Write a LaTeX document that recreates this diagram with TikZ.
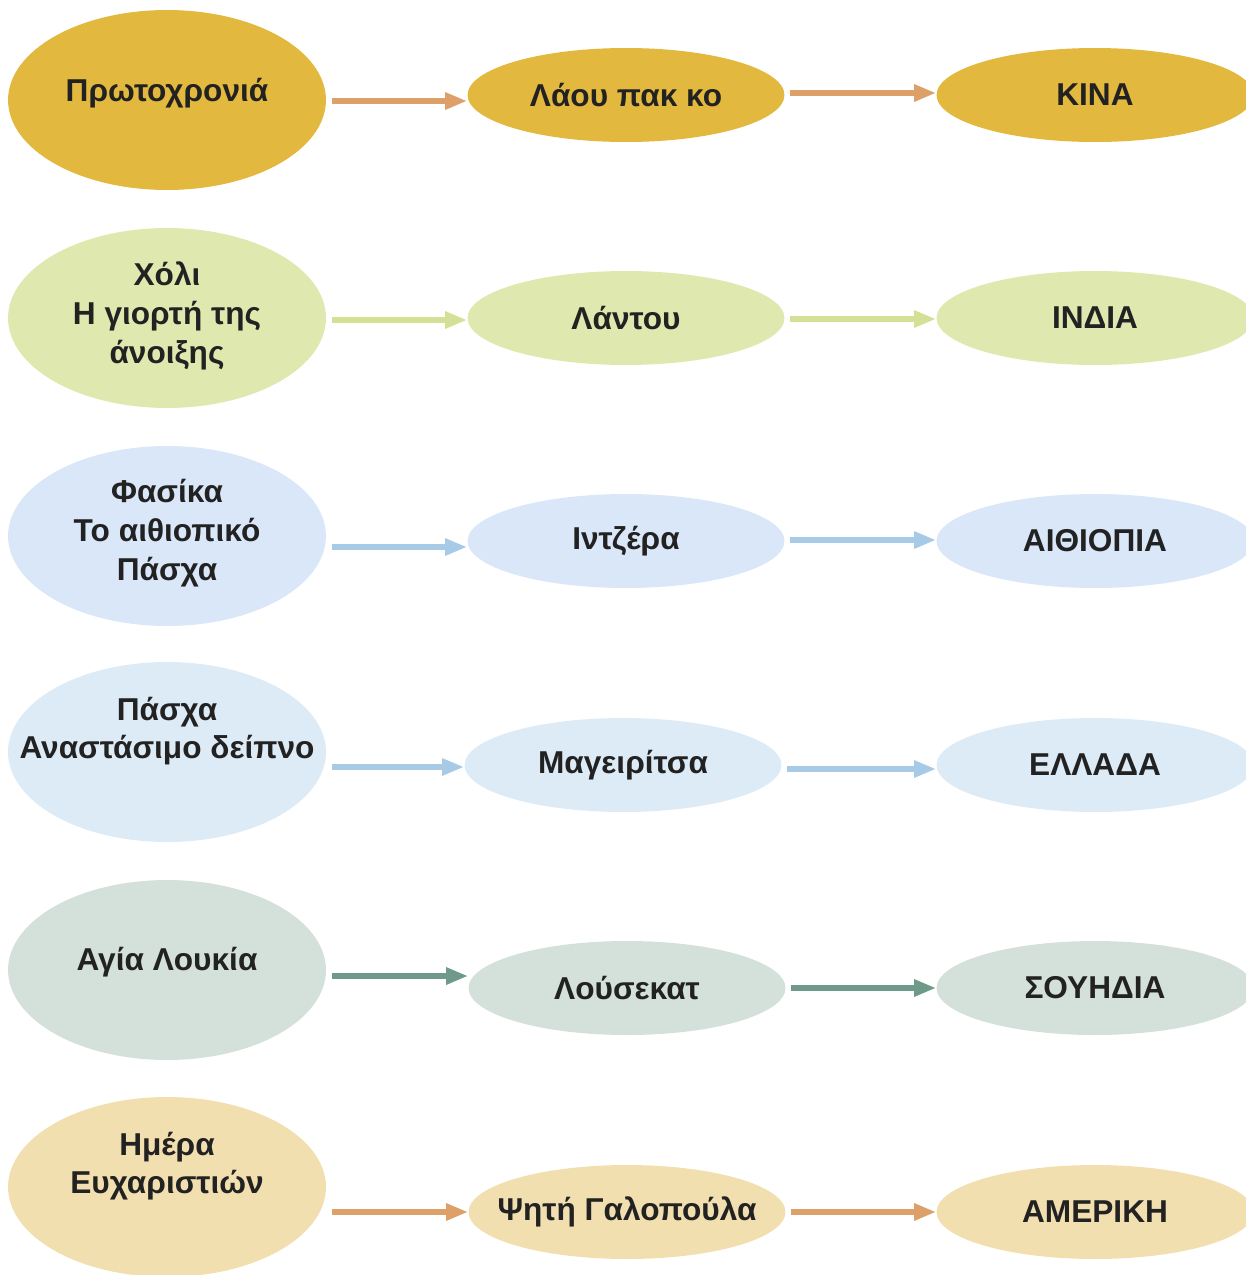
\documentclass[tikz,border=0pt]{standalone}
\usepackage{fontspec}
\setmainfont{Liberation Sans}
\usetikzlibrary{arrows.meta,shapes.geometric}

\definecolor{gold}{HTML}{E3B83E}
\definecolor{tan}{HTML}{DCA068}
\definecolor{lime}{HTML}{DFE8AE}
\definecolor{limearr}{HTML}{D3E096}
\definecolor{sky}{HTML}{D9E7F8}
\definecolor{skyb}{HTML}{DDEBF7}
\definecolor{skyarr}{HTML}{A7CBE6}
\definecolor{sage}{HTML}{D4E0DA}
\definecolor{sagearr}{HTML}{6F9A8A}
\definecolor{cream}{HTML}{F2DFAF}
\definecolor{ink}{HTML}{222222}

\begin{document}
\begin{tikzpicture}[x=0.02cm,y=-0.02cm,
  big/.style={ellipse,minimum width=6.36cm,minimum height=3.6cm,inner sep=0pt},
  small/.style={ellipse,minimum width=6.34cm,minimum height=1.88cm,inner sep=0pt,
    text=ink,font=\bfseries\fontsize{18}{22}\selectfont},
  lbl/.style={align=center,text=ink,inner sep=0pt,font=\bfseries\fontsize{18}{22}\selectfont},
  arr/.style={line width=0.12cm,shorten <=0.11cm,-{Triangle[width=0.32cm,length=0.44cm]}}]
\useasboundingbox (0,0) rectangle (1245,1275);

\node[big,fill=gold] (proto) at (167,100) {};
\node[lbl] (tproto) at (167,93) {Πρωτοχρονιά};
\node[small,fill=gold] (laou) at (626,95) {Λάου πακ κο};
\node[small,fill=gold] (kina) at (1095,95) {ΚΙΝΑ};
\draw[arr,tan] (proto.east |- 0,101) -- (laou.west |- 0,101);
\draw[arr,tan] (laou.east |- 0,93) -- (kina.west |- 0,93);

\node[big,fill=lime] (xoli) at (167,318) {};
\node[lbl] (txoli) at (167,316) {Χόλι\\Η γιορτή της\\άνοιξης};
\node[small,fill=lime] (lantou) at (626,318) {Λάντου};
\node[small,fill=lime] (india) at (1095,318) {ΙΝΔΙΑ};
\draw[arr,limearr] (xoli.east |- 0,320) -- (lantou.west |- 0,320);
\draw[arr,limearr] (lantou.east |- 0,319) -- (india.west |- 0,319);

\node[big,fill=sky] (fasika) at (167,536) {};
\node[lbl] (tfasika) at (167,533) {Φασίκα\\Το αιθιοπικό\\Πάσχα};
\node[small,fill=sky] (intzera) at (626,541) {Ιντζέρα};
\node[small,fill=sky] (aithiopia) at (1095,541) {ΑΙΘΙΟΠΙΑ};
\draw[arr,skyarr] (fasika.east |- 0,547) -- (intzera.west |- 0,547);
\draw[arr,skyarr] (intzera.east |- 0,540) -- (aithiopia.west |- 0,540);

\node[big,fill=skyb] (pasxa) at (167,752) {};
\node[lbl] (tpasxa) at (167,731) {Πάσχα\\Αναστάσιμο δείπνο};
\node[small,fill=skyb] (mageiritsa) at (623,765) {Μαγειρίτσα};
\node[small,fill=skyb] (ellada) at (1095,765) {ΕΛΛΑΔΑ};
\draw[arr,skyarr] (pasxa.east |- 0,767) -- (mageiritsa.west |- 0,767);
\draw[arr,skyarr] (mageiritsa.east |- 0,769) -- (ellada.west |- 0,769);

\node[big,fill=sage] (loukia) at (167,970) {};
\node[lbl] (tloukia) at (167,962) {Αγία Λουκία};
\node[small,fill=sage] (lousekat) at (627,988) {Λούσεκατ};
\node[small,fill=sage] (souidia) at (1095,988) {ΣΟΥΗΔΙΑ};
\draw[arr,sagearr] (loukia.east |- 0,976) -- (lousekat.west |- 0,976);
\draw[arr,sagearr] (lousekat.east |- 0,988) -- (souidia.west |- 0,988);

\node[big,fill=cream] (eyxar) at (167,1187) {};
\node[lbl] (teyxar) at (167,1166) {Ημέρα\\Ευχαριστιών};
\node[small,fill=cream] (galopoula) at (627,1212) {\makebox[0pt]{Ψητή Γαλοπούλα}};
\node[small,fill=cream] (ameriki) at (1095,1212) {ΑΜΕΡΙΚΗ};
\draw[arr,tan] (eyxar.east |- 0,1212) -- (galopoula.west |- 0,1212);
\draw[arr,tan] (galopoula.east |- 0,1212) -- (ameriki.west |- 0,1212);
\end{tikzpicture}
\end{document}
